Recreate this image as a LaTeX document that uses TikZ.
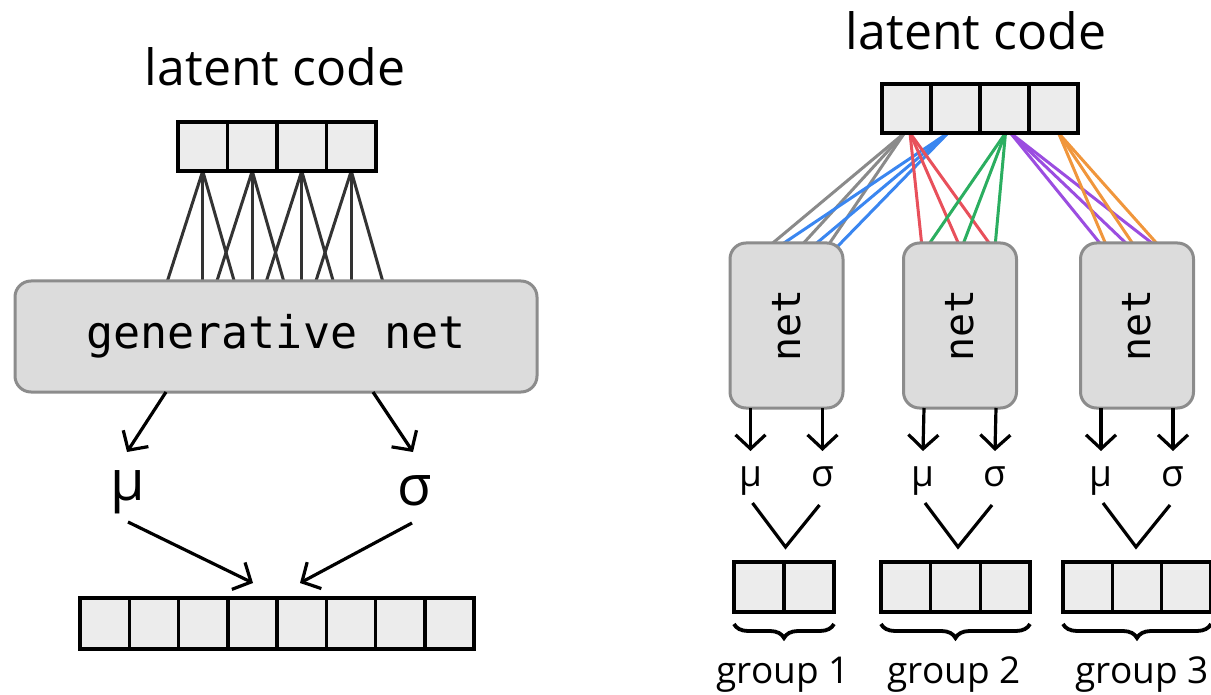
\documentclass[tikz,border=0pt]{standalone}
\usepackage{fontspec}
\usepackage{graphicx}
\setmainfont{Open Sans}
\newfontfamily\monof{DejaVu Sans Mono}
\usetikzlibrary{arrows.meta,decorations.pathreplacing,calc}
\pgfdeclarelayer{bg}
\pgfsetlayers{bg,main}
\definecolor{cellfill}{HTML}{ECECEC}
\definecolor{netfill}{HTML}{DCDCDC}
\definecolor{netdraw}{HTML}{8C8C8C}
\definecolor{fanline}{HTML}{333333}
\definecolor{cgray}{HTML}{8A8A8A}
\definecolor{cblue}{HTML}{3A86F0}
\definecolor{cred}{HTML}{E8505B}
\definecolor{cgreen}{HTML}{2BAE60}
\definecolor{cpurple}{HTML}{9B4DE0}
\definecolor{corange}{HTML}{F0963C}
\begin{document}
\begin{tikzpicture}[x=1pt,y=-1pt,
  cell/.style={draw=black, line width=3.5pt, fill=cellfill, minimum width=#1,
    minimum height=49pt, inner sep=0pt, outer sep=0pt},
  cell/.default=49.5pt,
  netbox/.style={draw=netdraw, fill=netfill, line width=3pt, rounded corners=16pt,
    inner sep=0pt, outer sep=0pt},
  fan/.style={draw=fanline, line width=3pt},
  colfan/.style={draw=#1, line width=3pt},
  arr/.style={draw=black, line width=3.2pt, -{Straight Barb[length=14pt,width=30pt,line width=3.2pt]}},
  vline/.style={draw=black, line width=3.2pt, line join=miter},
  brace/.style={draw=black, line width=3.8pt, decorate, decoration={brace, mirror, amplitude=14pt}},
  title/.style={font=\fontsize{50}{60}\selectfont, anchor=base, inner sep=0pt},
  bigsym/.style={font=\fontsize{56}{60}\selectfont, anchor=base, inner sep=0pt},
  smallsym/.style={font=\fontsize{37}{44}\selectfont, anchor=base, inner sep=0pt},
  glabel/.style={font=\fontsize{37}{44}\selectfont, anchor=base, inner sep=0pt}
]
\useasboundingbox (0,0) rectangle (1211,695);

% ================= LEFT =================
\node[title] (ltL) at (275,86) {latent code};
\foreach \i in {1,...,4}
  \node[cell=49.5pt] (L\i) at ({202.75+49.5*(\i-1)},146.5) {};
\node[netbox, minimum width=522pt, minimum height=111pt] (gen) at (276,336.5)
  {\monof\fontsize{45}{50}\selectfont generative net};
\begin{pgfonlayer}{bg}
\foreach \i in {1,...,4}{
  \pgfmathsetmacro\cx{202.75+49.5*(\i-1)}
  \coordinate (ea\i) at ({\cx-36},283);
  \coordinate (eb\i) at ({\cx},283);
  \coordinate (ec\i) at ({\cx+32},283);
  \draw[fan] (L\i.south) -- (ea\i);
  \draw[fan] (L\i.south) -- (eb\i);
  \draw[fan] (L\i.south) -- (ec\i);
}
\end{pgfonlayer}
\node[bigsym] (muL) at (128,500) {μ};
\node[bigsym] (sgL) at (415,505) {σ};
\coordinate (muLin) at (127,452);
\coordinate (sgLin) at (413,452);
\draw[arr] ([xshift=-110pt]gen.south) -- (muLin);
\draw[arr] ([xshift=97pt]gen.south) -- (sgLin);
\foreach \i in {1,...,8}
  \node[cell=49.25pt, minimum height=51pt] (B\i) at ({80+24.625+49.25*(\i-1)},623.5) {};
\coordinate (muLout) at (128,522);
\coordinate (sgLout) at (412,523);
\coordinate (inA) at (253,583);
\coordinate (inB) at (300,583);
\draw[arr] (muLout) -- (inA);
\draw[arr] (sgLout) -- (inB);

% ================= RIGHT =================
\node[title] (ltR) at (976,50) {latent code};
\foreach \i in {1,...,4}
  \node[cell=49pt] (R\i) at ({906.5+49*(\i-1)},108.5) {};
\foreach \i/\cx in {1/786.5, 2/960, 3/1137}
  \node[netbox, minimum width=113pt, minimum height=165pt] (N\i) at (\cx,325.5)
    {\rotatebox{90}{\monof\fontsize{40}{44}\selectfont net}};
\begin{pgfonlayer}{bg}
\foreach \col/\src/\dx/\ea/\eb/\ec [count=\k] in
  {cgray/R1/-2/768/800/827, cblue/R2/-7.5/778/812/837,
   cred/R1/3.5/922/960/992, cgreen/R3/1/927/962/995,
   cpurple/R3/6/1103/1130/1157, corange/R4/5/1107/1135/1160}{
  \foreach \e [count=\j] in {\ea,\eb,\ec}{
    \coordinate (t\k-\j) at (\e,247);
    \draw[colfan=\col] ([xshift=\dx pt]\src.south) -- (t\k-\j);
  }
}
\end{pgfonlayer}
% outputs of each net
\foreach \i/\cx in {1/786.5, 2/959, 3/1137}{
  \coordinate (mt\i) at ({\cx-36},451);
  \coordinate (st\i) at ({\cx+36},451);
  \draw[arr] ([xshift=-36pt]N\i.south) -- (mt\i);
  \draw[arr] ([xshift=36pt]N\i.south) -- (st\i);
  \node[smallsym] (mu\i) at ({\cx-36},486) {μ};
  \node[smallsym] (sg\i) at ({\cx+36},486) {σ};
  \coordinate (va\i) at ({\cx-34},503);
  \coordinate (vb\i) at ({\cx-1},547);
  \coordinate (vc\i) at ({\cx+33},505);
  \draw[vline] (va\i) -- (vb\i) -- (vc\i);
}
% groups
\foreach \j in {1,2}
  \node[cell=50pt, minimum height=50pt] (Ga\j) at ({734+25+50*(\j-1)},587) {};
\foreach \j in {1,2,3}
  \node[cell=49.67pt, minimum height=50pt] (Gb\j) at ({881+24.83+49.67*(\j-1)},587) {};
\foreach \j in {1,2,3}
  \node[cell=49.33pt, minimum height=50pt] (Gc\j) at ({1063+24.67+49.33*(\j-1)},587) {};
\draw[brace] ([yshift=-12pt]Ga1.south west) -- ([yshift=-12pt]Ga2.south east);
\draw[brace] ([yshift=-12pt]Gb1.south west) -- ([yshift=-12pt]Gb3.south east);
\draw[brace] ([yshift=-12pt]Gc1.south west) -- ([yshift=-12pt]Gc3.south east);
\node[glabel] (gl1) at (783,683) {group 1};
\node[glabel] (gl2) at (954,683) {group 2};
\node[glabel] (gl3) at (1142,683) {group 3};
\end{tikzpicture}
\end{document}
